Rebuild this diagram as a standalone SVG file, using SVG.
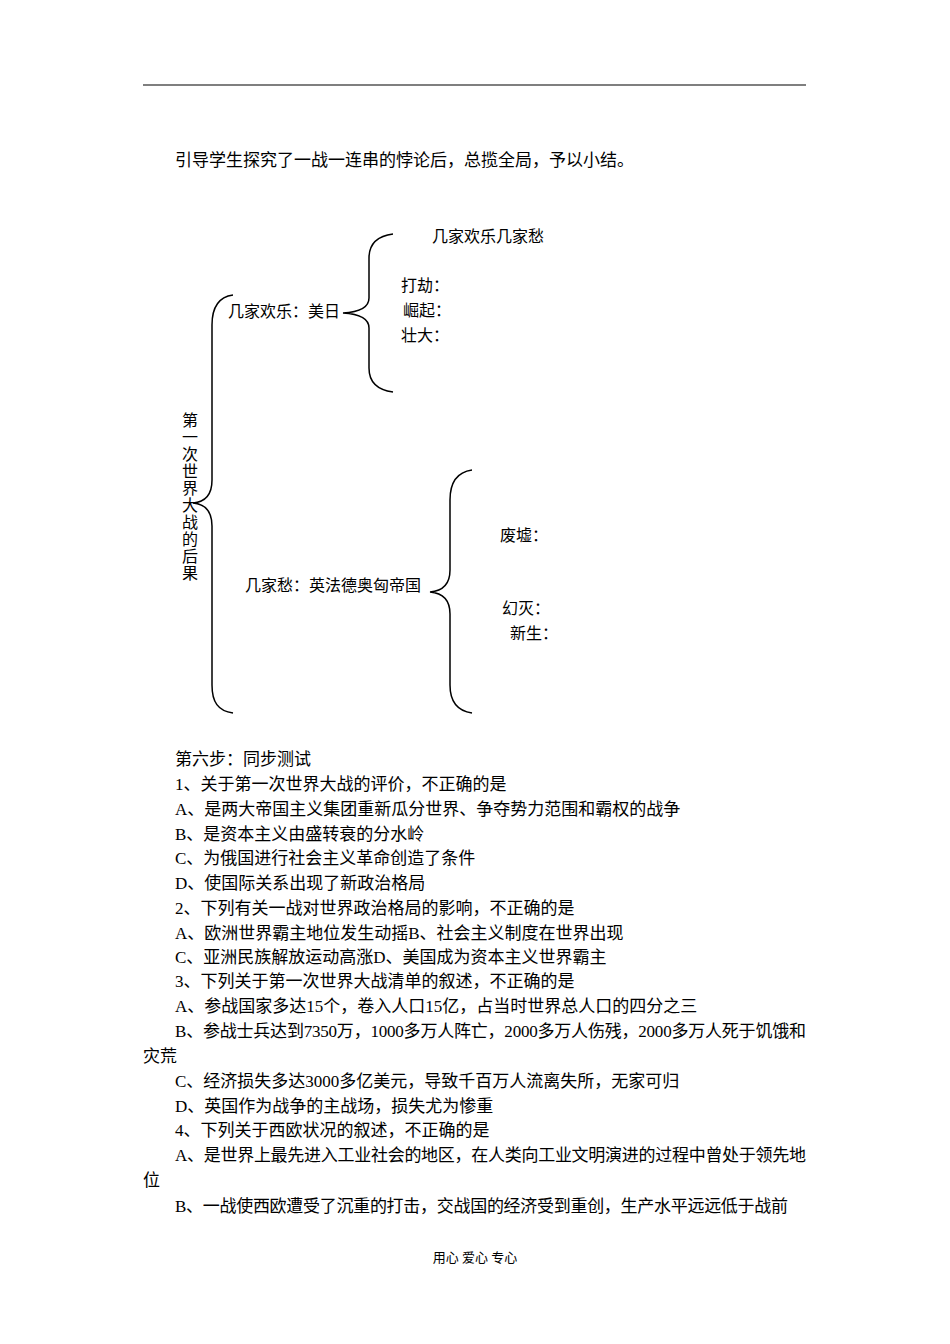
<svg xmlns="http://www.w3.org/2000/svg" width="950" height="1344" viewBox="0 0 950 1344">
<style>
text{font-family:"Liberation Serif","Noto Sans CJK SC",serif;font-size:17px;fill:#000}
.b{fill:none;stroke:#000;stroke-width:1.5}
.v{font-size:16px}
.f{font-size:13px}
</style>
<rect width="950" height="1344" fill="#fff"/>
<line x1="143" y1="85" x2="806" y2="85" stroke="#000" stroke-width="1.2"/>
<text x="175" y="166">引导学生探究了一战一连串的悖论后，总揽全局，予以小结。</text>
<g id="connectors">
<path class="b" d="M233,295 C218,297 212,308 212,325 L212,480 C212,495 205,502 193,503 C205,504 212,511 212,526 L212,685 C212,702 218,711 233,713"/>
<path class="b" d="M393,234 C378,236 369,244 369,258 L369,298 C369,307 360,312 343,313 C360,314 369,319 369,328 L369,368 C369,382 378,390 393,392"/>
<path class="b" d="M472,470 C458,472 450,482 450,500 L450,570 C450,585 442,591 430,592 C442,593 450,599 450,614 L450,685 C450,703 458,711 472,713"/>
</g>
<g id="root"><text class="v" x="182" y="426">第</text><text class="v" x="182" y="443">一</text><text class="v" x="182" y="460">次</text><text class="v" x="182" y="477">世</text><text class="v" x="182" y="494">界</text><text class="v" x="182" y="511">大</text><text class="v" x="182" y="528">战</text><text class="v" x="182" y="545">的</text><text class="v" x="182" y="562">后</text><text class="v" x="182" y="579">果</text></g>
<g id="n1"><text class="v" x="228" y="317">几家欢乐：美日</text></g>
<g id="n2"><text class="v" x="432" y="242">几家欢乐几家愁</text><text class="v" x="401" y="291">打劫：</text><text class="v" x="403" y="316">崛起：</text><text class="v" x="401" y="341">壮大：</text></g>
<g id="n3"><text class="v" x="245" y="591">几家愁：英法德奥匈帝国</text></g>
<g id="n4"><text class="v" x="500" y="541">废墟：</text><text class="v" x="502" y="614">幻灭：</text><text class="v" x="510" y="639">新生：</text></g>
<text x="175" y="765">第六步：同步测试</text>
<text x="175" y="790">1、关于第一次世界大战的评价，不正确的是</text>
<text x="175" y="815">A、是两大帝国主义集团重新瓜分世界、争夺势力范围和霸权的战争</text>
<text x="175" y="840">B、是资本主义由盛转衰的分水岭</text>
<text x="175" y="864">C、为俄国进行社会主义革命创造了条件</text>
<text x="175" y="889">D、使国际关系出现了新政治格局</text>
<text x="175" y="914">2、下列有关一战对世界政治格局的影响，不正确的是</text>
<text x="175" y="939">A、欧洲世界霸主地位发生动摇B、社会主义制度在世界出现</text>
<text x="175" y="963">C、亚洲民族解放运动高涨D、美国成为资本主义世界霸主</text>
<text x="175" y="987">3、下列关于第一次世界大战清单的叙述，不正确的是</text>
<text x="175" y="1012">A、参战国家多达15个，卷入人口15亿，占当时世界总人口的四分之三</text>
<text x="175" y="1037" textLength="631" lengthAdjust="spacing">B、参战士兵达到7350万，1000多万人阵亡，2000多万人伤残，2000多万人死于饥饿和</text>
<text x="143" y="1062">灾荒</text>
<text x="175" y="1087">C、经济损失多达3000多亿美元，导致千百万人流离失所，无家可归</text>
<text x="175" y="1112">D、英国作为战争的主战场，损失尤为惨重</text>
<text x="175" y="1136">4、下列关于西欧状况的叙述，不正确的是</text>
<text x="175" y="1161" textLength="631" lengthAdjust="spacing">A、是世界上最先进入工业社会的地区，在人类向工业文明演进的过程中曾处于领先地</text>
<text x="143" y="1186">位</text>
<text x="175" y="1212" textLength="613" lengthAdjust="spacing">B、一战使西欧遭受了沉重的打击，交战国的经济受到重创，生产水平远远低于战前</text>
<text class="f" x="475" y="1262" text-anchor="middle">用心  爱心  专心</text>
</svg>
